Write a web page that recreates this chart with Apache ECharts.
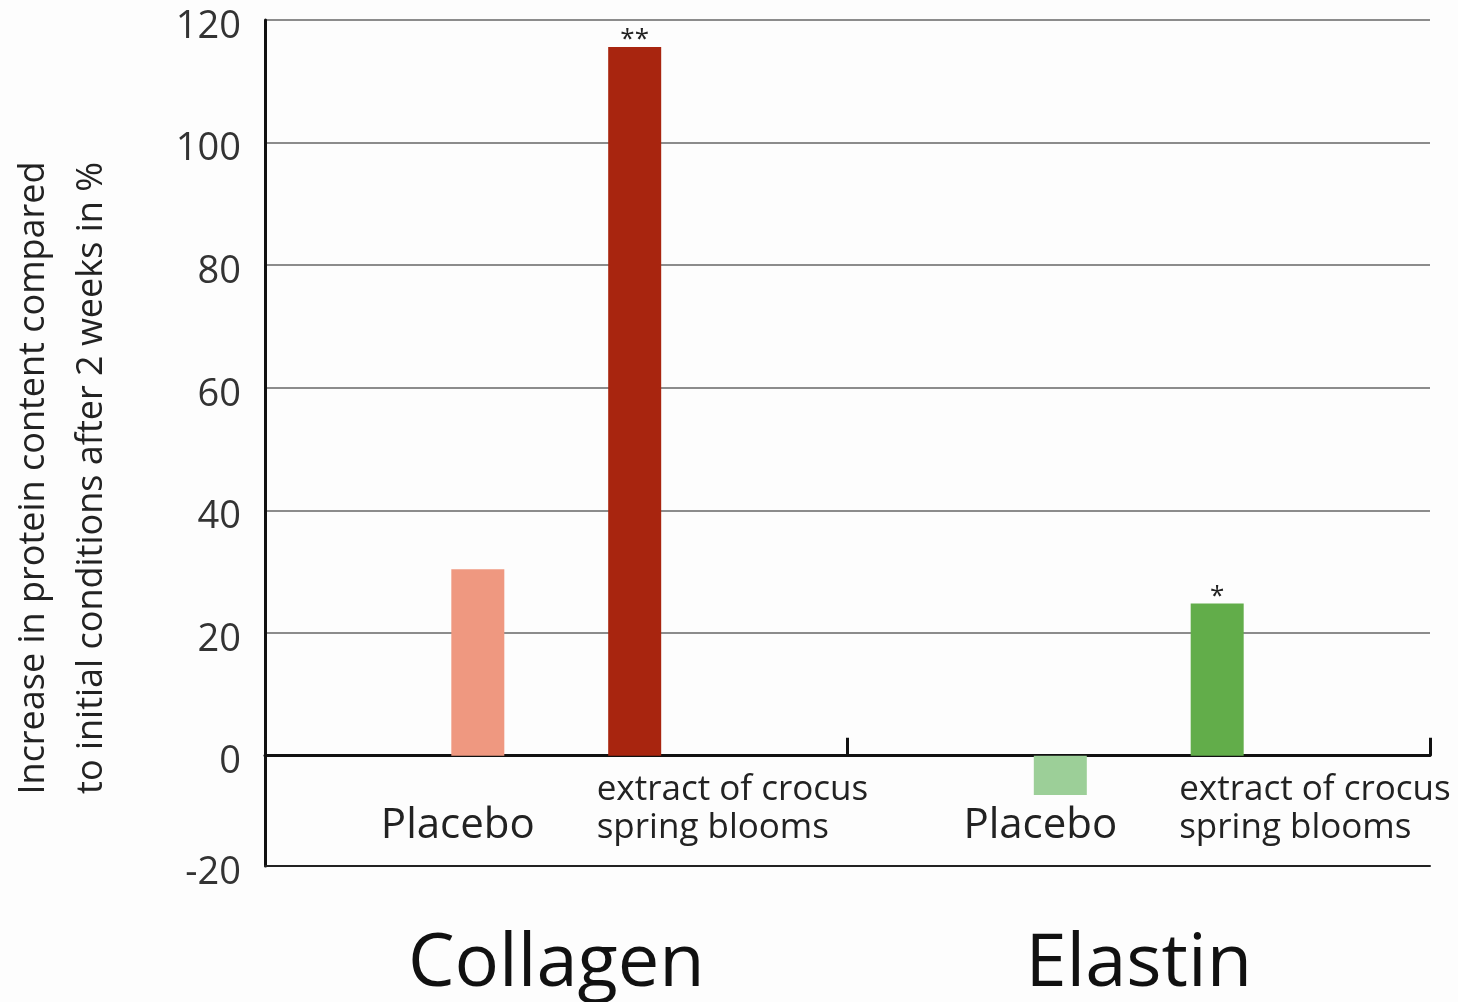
<!DOCTYPE html>
<html>
<head>
<meta charset="utf-8">
<script src="https://cdn.jsdelivr.net/npm/echarts@6/dist/echarts.min.js"></script>
<style>
  html, body { margin: 0; padding: 0; background: #fdfdfd; }
  #chart { width: 1458px; height: 1002px; }
</style>
</head>
<body>
<div id="chart"></div>
<script>
const groups = ['Collagen', 'Elastin']
const placeboValues = [30.4, -6.4]
const extractValues = [115.6, 24.8]
const significance = ['**', '*']
const placeboColors = ['#ef9880', '#9ccf98']
const extractColors = ['#a8250f', '#62ad4a']
const subLabels = ['Placebo', 'extract of crocus\nspring blooms']
const yTitle = 'Increase in protein content compared\nto initial conditions after 2 weeks in %'

const font = "'Open Sans', 'Noto Sans', sans-serif"
let chart = echarts.init(document.getElementById('chart'))

let option = {
  backgroundColor: '#fdfdfd',
  animation: false,
  grid: { left: 265, right: 28, top: 20, bottom: 134 },
  xAxis: [
    {
      type: 'category',
      data: groups,
      axisLine: { onZero: true, lineStyle: { color: '#111', width: 3 } },
      axisTick: { show: true, inside: true, length: 18, lineStyle: { color: '#111', width: 3 } },
      axisLabel: { show: false },
    },
    {
      type: 'category',
      data: groups,
      position: 'bottom',
      axisLine: { onZero: false, lineStyle: { color: '#222', width: 2 } },
      axisTick: { show: false },
      axisLabel: { fontFamily: font, fontSize: 74, color: '#111', margin: 62 },
    },
  ],
  yAxis: {
    type: 'value',
    min: -18,
    max: 120,
    minInterval: 20,
    maxInterval: 20,
    axisLine: { show: true, lineStyle: { color: '#111', width: 3 } },
    axisTick: { show: false },
    axisLabel: {
      fontFamily: font,
      fontSize: 38,
      color: '#333',
      margin: 24,
      verticalAlign: 'top',
      lineHeight: 14,
      // the bottom edge of the plot is labelled -20 in the original
      formatter: v => (v === -18 ? '-20' : String(v)),
    },
    splitLine: { lineStyle: { color: '#666', width: 1.5 } },
  },
  series: [
    {
      name: 'Placebo',
      type: 'bar',
      barWidth: 53,
      barGap: '196%',
      data: placeboValues.map((v, i) => ({ value: v, itemStyle: { color: placeboColors[i] } })),
    },
    {
      name: 'Extract',
      type: 'bar',
      barWidth: 53,
      data: extractValues.map((v, i) => ({ value: v, itemStyle: { color: extractColors[i] } })),
      label: {
        show: true,
        position: 'top',
        distance: -6,
        fontFamily: font,
        fontSize: 26,
        color: '#222',
        formatter: p => significance[p.dataIndex],
      },
    },
  ],
}
chart.setOption(option)

// sub-category labels under the zero line and the rotated axis title
let y0 = chart.convertToPixel({ yAxisIndex: 0 }, 0)
let half = (53 + 53 * 1.96) / 2
let graphics = []
groups.forEach(g => {
  let cx = chart.convertToPixel({ xAxisIndex: 0 }, g)
  graphics.push({
    type: 'text',
    x: cx - half - 20,
    y: y0 + 70,
    style: {
      text: subLabels[0], font: '42px ' + font, fill: '#222',
      textAlign: 'center', textVerticalAlign: 'middle',
    },
  })
  graphics.push({
    type: 'text',
    x: cx + half - 38,
    y: y0 + 53,
    style: {
      text: subLabels[1], font: '35px ' + font, fill: '#222', lineHeight: 38,
      textAlign: 'left', textVerticalAlign: 'middle',
    },
  })
})
graphics.push({
  type: 'text',
  x: 63,
  y: 478,
  rotation: Math.PI / 2,
  style: {
    text: yTitle, font: '36px ' + font, fill: '#222', lineHeight: 58,
    textAlign: 'center', textVerticalAlign: 'middle',
  },
})
chart.setOption({ graphic: graphics })
</script>
</body>
</html>
